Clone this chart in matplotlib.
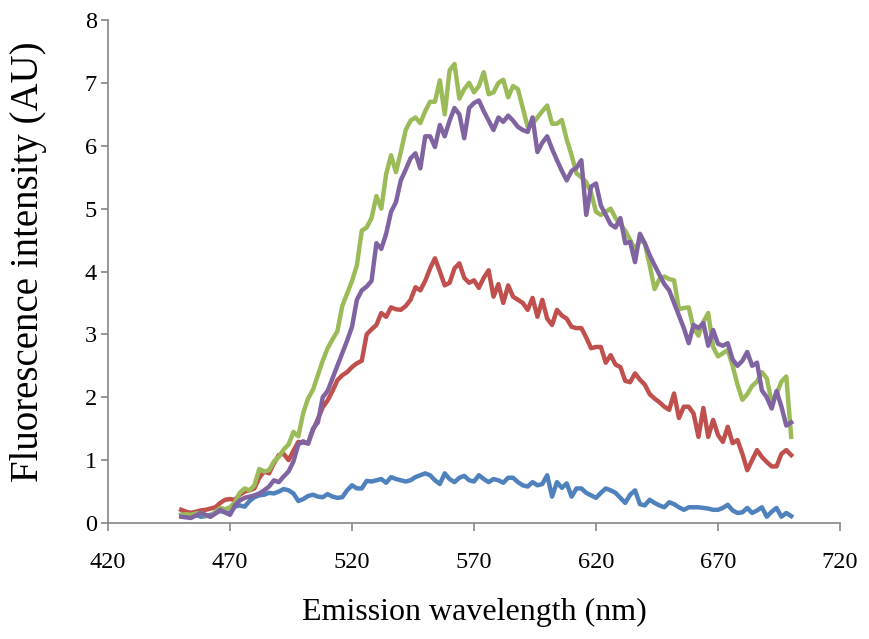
import matplotlib
matplotlib.use("Agg")
import matplotlib.pyplot as plt

# emission wavelength grid (nm), one reading every 2 nm
wavelength = list(range(450, 701, 2))

blue = [0.13, 0.15, 0.16, 0.13, 0.10, 0.11, 0.13, 0.16, 0.19, 0.17,
        0.16, 0.26, 0.28, 0.26, 0.35, 0.41, 0.44, 0.45, 0.48, 0.47,
        0.50, 0.54, 0.52, 0.47, 0.35, 0.38, 0.43, 0.45, 0.42, 0.41,
        0.46, 0.42, 0.40, 0.41, 0.52, 0.60, 0.55, 0.55, 0.67, 0.66,
        0.68, 0.70, 0.64, 0.73, 0.70, 0.68, 0.66, 0.68, 0.73, 0.76,
        0.79, 0.76, 0.68, 0.62, 0.79, 0.70, 0.65, 0.72, 0.75, 0.68,
        0.66, 0.76, 0.70, 0.65, 0.70, 0.68, 0.64, 0.72, 0.72, 0.65,
        0.60, 0.58, 0.65, 0.60, 0.62, 0.76, 0.42, 0.65, 0.56, 0.63,
        0.42, 0.55, 0.55, 0.48, 0.44, 0.40, 0.48, 0.55, 0.52, 0.48,
        0.40, 0.32, 0.45, 0.52, 0.30, 0.28, 0.37, 0.32, 0.28, 0.25,
        0.33, 0.30, 0.25, 0.21, 0.25, 0.25, 0.25, 0.24, 0.23, 0.21,
        0.21, 0.24, 0.29, 0.20, 0.16, 0.17, 0.24, 0.16, 0.20, 0.25,
        0.10, 0.18, 0.24, 0.10, 0.16, 0.11]

red = [0.21, 0.18, 0.16, 0.18, 0.20, 0.21, 0.23, 0.25, 0.32, 0.37,
       0.38, 0.37, 0.45, 0.50, 0.52, 0.55, 0.72, 0.82, 0.79, 0.95,
       1.08, 1.10, 1.00, 1.15, 1.29, 1.28, 1.27, 1.48, 1.65, 1.84,
       1.95, 2.10, 2.27, 2.35, 2.40, 2.48, 2.54, 2.58, 3.00, 3.08,
       3.15, 3.34, 3.28, 3.43, 3.40, 3.39, 3.45, 3.55, 3.75, 3.70,
       3.85, 4.05, 4.21, 4.00, 3.78, 3.82, 4.05, 4.13, 3.90, 3.82,
       3.86, 3.74, 3.90, 4.02, 3.60, 3.80, 3.50, 3.78, 3.60, 3.55,
       3.50, 3.39, 3.58, 3.28, 3.55, 3.25, 3.15, 3.39, 3.30, 3.25,
       3.12, 3.10, 3.10, 2.95, 2.78, 2.80, 2.80, 2.55, 2.67, 2.52,
       2.48, 2.26, 2.24, 2.38, 2.28, 2.20, 2.05, 1.98, 1.92, 1.85,
       1.80, 2.06, 1.67, 1.85, 1.85, 1.74, 1.37, 1.83, 1.37, 1.64,
       1.40, 1.29, 1.53, 1.27, 1.32, 1.10, 0.84, 1.00, 1.16, 1.05,
       0.97, 0.90, 0.90, 1.10, 1.16, 1.08]

green = [0.13, 0.14, 0.13, 0.15, 0.16, 0.12, 0.10, 0.18, 0.24, 0.22,
         0.25, 0.33, 0.48, 0.55, 0.52, 0.60, 0.86, 0.82, 0.84, 0.98,
         1.05, 1.17, 1.25, 1.45, 1.38, 1.75, 1.98, 2.12, 2.35, 2.58,
         2.78, 2.92, 3.05, 3.45, 3.65, 3.85, 4.10, 4.65, 4.70, 4.85,
         5.20, 5.00, 5.55, 5.85, 5.58, 5.90, 6.25, 6.40, 6.45, 6.36,
         6.55, 6.70, 6.70, 7.04, 6.50, 7.20, 7.30, 6.75, 6.90, 7.00,
         6.85, 6.95, 7.17, 6.82, 6.85, 7.00, 7.05, 6.77, 6.95, 6.90,
         6.60, 6.30, 6.35, 6.45, 6.55, 6.64, 6.35, 6.35, 6.41, 6.10,
         5.85, 5.56, 5.50, 5.42, 5.25, 4.95, 4.90, 4.95, 5.00, 4.85,
         4.75, 4.65, 4.50, 4.35, 4.50, 4.45, 4.10, 3.72, 3.88, 3.92,
         3.88, 3.86, 3.40, 3.42, 3.43, 3.10, 2.98, 3.20, 3.34, 2.80,
         2.65, 2.70, 2.75, 2.50, 2.20, 1.96, 2.05, 2.18, 2.25, 2.40,
         2.30, 1.92, 2.05, 2.25, 2.33, 1.37]

purple = [0.10, 0.09, 0.08, 0.12, 0.16, 0.13, 0.10, 0.15, 0.21, 0.17,
          0.13, 0.28, 0.36, 0.40, 0.42, 0.44, 0.47, 0.52, 0.58, 0.68,
          0.65, 0.74, 0.82, 0.98, 1.25, 1.30, 1.26, 1.50, 1.60, 2.00,
          2.10, 2.30, 2.50, 2.70, 2.90, 3.12, 3.55, 3.70, 3.76, 3.85,
          4.45, 4.36, 4.60, 4.95, 5.10, 5.45, 5.62, 5.80, 5.88, 5.64,
          6.15, 6.15, 5.98, 6.33, 6.15, 6.40, 6.60, 6.50, 6.12, 6.60,
          6.68, 6.72, 6.55, 6.40, 6.25, 6.45, 6.38, 6.48, 6.40, 6.30,
          6.25, 6.22, 6.45, 5.90, 6.05, 6.15, 5.95, 5.77, 5.60, 5.45,
          5.60, 5.65, 5.77, 4.90, 5.35, 5.40, 5.05, 4.90, 4.75, 4.70,
          4.85, 4.45, 4.47, 4.15, 4.60, 4.45, 4.26, 4.10, 3.95, 3.80,
          3.70, 3.50, 3.30, 3.10, 2.86, 3.15, 3.10, 3.18, 2.82, 3.07,
          2.85, 2.82, 2.86, 2.60, 2.50, 2.58, 2.72, 2.50, 2.55, 2.11,
          2.00, 1.82, 2.10, 1.85, 1.55, 1.60]

series = [(blue, "#4F81BD"), (red, "#C0504D"), (green, "#9BBB59"), (purple, "#8064A2")]

plt.rcParams['font.family'] = ['Liberation Serif', 'DejaVu Serif']

fig = plt.figure(figsize=(8.69, 6.39), dpi=100)
ax = fig.add_axes([0.1243, 0.1815, 0.8423, 0.7872])

for values, color in series:
    ax.plot(wavelength, values, color=color, linewidth=3.2, solid_joinstyle='round')

ax.set_xlim(420, 720)
ax.set_ylim(0, 8)
ax.set_xticks(range(420, 721, 50))
ax.set_yticks(range(0, 9))

for side in ['top', 'right']:
    ax.spines[side].set_visible(False)
for side in ['left', 'bottom']:
    ax.spines[side].set_color('#868686')
    ax.spines[side].set_linewidth(1.2)
ax.tick_params(axis='both', colors='#868686', labelcolor='black', labelsize=17.5,
               length=6, width=1.2, direction='out')
ax.tick_params(axis='x', pad=15)
ax.tick_params(axis='y', pad=3, length=5)

ax.set_xlabel("Emission wavelength (nm)", fontsize=23)
ax.set_ylabel("Fluorescence intensity (AU)", fontsize=28)
ax.xaxis.label.set_va('center')
ax.yaxis.label.set_va('center')
ax.xaxis.set_label_coords(0.5, -0.177)
ax.yaxis.set_label_coords(-0.108, 0.52)

fig.savefig("out.png", dpi=100)
